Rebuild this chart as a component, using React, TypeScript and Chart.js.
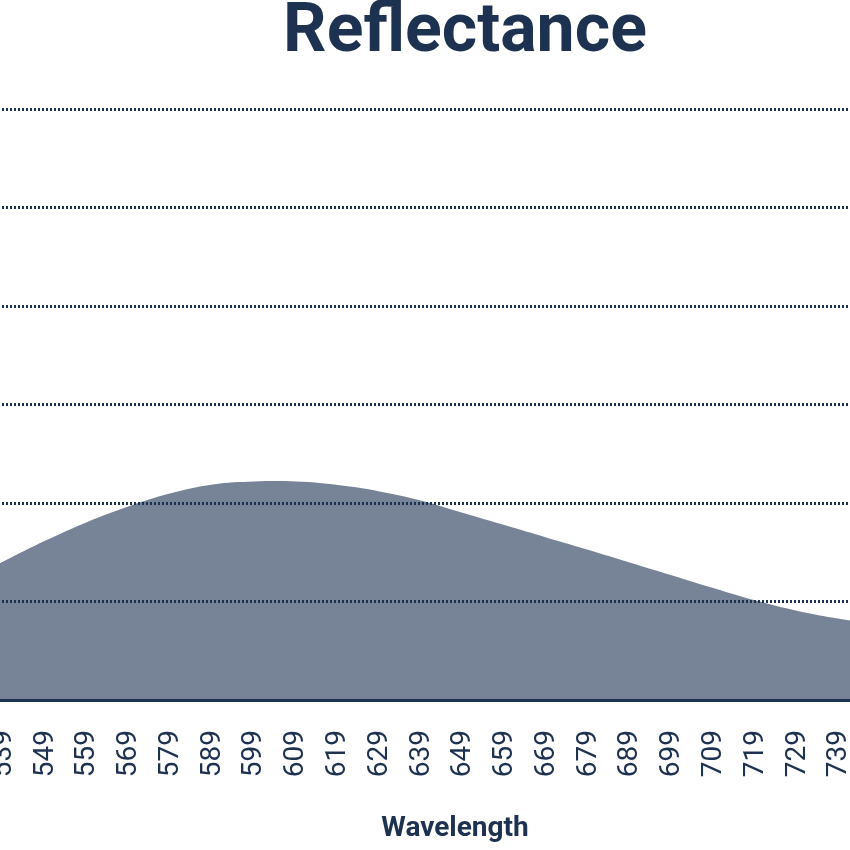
import React, { useEffect, useRef } from "react";
import { Chart, registerables } from "chart.js";

Chart.register(...registerables);

const chartTitle = "Reflectance";
const xAxisTitle = "Wavelength";

const wavelengths = [529, 539, 549, 559, 569, 579, 589, 599, 609, 619, 629, 639, 649, 659, 669, 679, 689, 699, 709, 719, 729, 739, 749];
const reflectance = [12.0, 14.1, 16.2, 18.1, 19.7, 21.0, 21.9, 22.2, 22.2, 21.85, 21.2, 20.25, 19.0, 17.75, 16.5, 15.25, 13.95, 12.65, 11.35, 10.1, 9.05, 8.25, 7.6];
const tickLabels = [539, 549, 559, 569, 579, 589, 599, 609, 619, 629, 639, 649, 659, 669, 679, 689, 699, 709, 719, 729, 739];

const NAVY = "#1d3150";

export default function App() {
  const ref = useRef<HTMLCanvasElement>(null);

  useEffect(() => {
    const chart = new Chart(ref.current!, {
      type: "line",
      data: {
        datasets: [
          {
            data: wavelengths.map((x, i) => ({ x, y: reflectance[i] })),
            fill: "origin",
            backgroundColor: "rgba(29,49,80,0.6)",
            borderWidth: 0,
            pointRadius: 0,
            tension: 0.4,
          },
        ],
      },
      options: {
        animation: false,
        responsive: false,
        maintainAspectRatio: false,
        devicePixelRatio: 1,
        layout: { padding: 0 },
        plugins: {
          legend: { display: false },
          tooltip: { enabled: false },
          title: {
            display: true,
            text: chartTitle,
            color: NAVY,
            font: { family: "Roboto", size: 68, weight: "bold", lineHeight: 1.2 },
            padding: { top: 3, bottom: 35 },
          },
        },
        scales: {
          x: {
            type: "linear",
            min: 529,
            max: 765,
            afterBuildTicks: (s: any) => {
              s.ticks = tickLabels.map((v) => ({ value: v }));
            },
            grid: { display: false, drawTicks: false },
            border: { display: true, color: NAVY, width: 3, z: 1 },
            ticks: {
              color: NAVY,
              font: { family: "Roboto", size: 28 },
              minRotation: 90,
              maxRotation: 90,
              padding: 30,
              autoSkip: false,
              callback: (v: any) => String(v),
            },
            title: {
              display: true,
              text: xAxisTitle,
              color: NAVY,
              font: { family: "Roboto", size: 28, weight: "bold", lineHeight: 1.2 },
              padding: { top: 0, bottom: 4 },
            },
            afterFit: (s: any) => {
              s.height = 150;
            },
          },
          y: {
            position: "right",
            min: 0,
            max: 60,
            ticks: { display: false, stepSize: 10 },
            grid: {
              color: (ctx: any) => (ctx.tick && ctx.tick.value === 0 ? "rgba(0,0,0,0)" : NAVY),
              lineWidth: 3,
              drawTicks: false,
              z: 1,
            },
            border: { display: false, dash: [2, 2] },
            afterFit: (s: any) => {
              s.width = 20;
            },
          },
        },
      },
    });
    return () => chart.destroy();
  }, []);

  return (
    <div
      style={{
        position: "fixed",
        left: 0,
        top: 0,
        width: 850,
        height: 850,
        overflow: "hidden",
        background: "#fff",
      }}
    >
      <canvas
        ref={ref}
        width={1006}
        height={860}
        style={{ position: "absolute", left: -38, top: -10, width: 1006, height: 860 }}
      />
    </div>
  );
}
